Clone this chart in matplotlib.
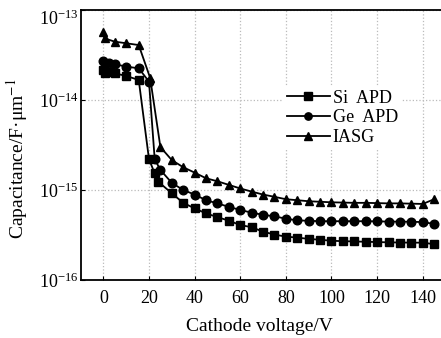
import numpy as np
import matplotlib
matplotlib.use('Agg')
import matplotlib.pyplot as plt
from matplotlib.ticker import FixedLocator, NullLocator
from matplotlib.transforms import ScaledTranslation

# 데이터
tail_v = [30, 35, 40, 45, 50, 55, 60, 65, 70, 75, 80, 85, 90, 95, 100,
          105, 110, 115, 120, 125, 130, 135, 140, 145]

si_v = [0, 0.5, 2.5, 5, 10, 15.5, 20, 22.5, 24] + tail_v
si_c = [2.15e-14, 2.0e-14, 2.07e-14, 1.98e-14, 1.85e-14, 1.67e-14, 2.2e-15, 1.53e-15, 1.24e-15,
        9.2e-16, 7.2e-16, 6.25e-16, 5.5e-16, 5.0e-16, 4.56e-16, 4.08e-16, 3.86e-16, 3.44e-16,
        3.2e-16, 3.03e-16, 2.96e-16, 2.86e-16, 2.8e-16, 2.73e-16, 2.7e-16, 2.68e-16, 2.66e-16,
        2.64e-16, 2.62e-16, 2.61e-16, 2.6e-16, 2.6e-16, 2.5e-16]

ge_v = [0, 0.5, 2.5, 5, 10, 15.5, 20, 22.5, 25] + tail_v
ge_c = [2.73e-14, 2.6e-14, 2.6e-14, 2.5e-14, 2.35e-14, 2.25e-14, 1.6e-14, 2.2e-15, 1.67e-15,
        1.2e-15, 1.0e-15, 8.9e-16, 7.7e-16, 7.1e-16, 6.5e-16, 6.0e-16, 5.6e-16, 5.3e-16,
        5.1e-16, 4.8e-16, 4.6e-16, 4.55e-16, 4.5e-16, 4.5e-16, 4.5e-16, 4.5e-16, 4.5e-16,
        4.48e-16, 4.46e-16, 4.45e-16, 4.44e-16, 4.4e-16, 4.2e-16]

iasg_v = [0, 0.5, 5, 10, 15.5, 20.5, 25] + tail_v
iasg_c = [5.74e-14, 4.84e-14, 4.45e-14, 4.27e-14, 4.08e-14, 1.76e-14, 3.0e-15,
          2.15e-15, 1.79e-15, 1.56e-15, 1.35e-15, 1.25e-15, 1.14e-15, 1.04e-15, 9.6e-16,
          8.9e-16, 8.4e-16, 7.9e-16, 7.7e-16, 7.5e-16, 7.4e-16, 7.3e-16, 7.25e-16, 7.2e-16,
          7.2e-16, 7.15e-16, 7.1e-16, 7.1e-16, 7.05e-16, 7.0e-16, 7.9e-16]

x_ticks = [0, 20, 40, 60, 80, 100, 120, 140]
y_ticks = [1e-16, 1e-15, 1e-14, 1e-13]

plt.rcParams['font.family'] = ['Liberation Serif', 'DejaVu Serif']
plt.rcParams['mathtext.fontset'] = 'stix'

fig = plt.figure(figsize=(4.41, 3.38), dpi=100)
ax = fig.add_axes([0.1837, 0.1716, 0.8163, 0.7988])

line_kw = dict(color='black', linewidth=1.3, markersize=6.2)
ax.plot(si_v, si_c, marker='s', label='Si  APD', **line_kw)
ax.plot(ge_v, ge_c, marker='o', label='Ge  APD', **line_kw)
ax.plot(iasg_v, iasg_c, marker='^', label='IASG', **line_kw)

ax.set_yscale('log')
ax.set_ylim(1e-16, 1e-13)
ax.set_xlim(-9.8, 148)
ax.set_xticks(x_ticks)
ax.yaxis.set_major_locator(FixedLocator(y_ticks))
ax.yaxis.set_minor_locator(NullLocator())

ax.tick_params(direction='in', length=3, width=0.8, labelsize=13)
ax.tick_params(axis='y', pad=2)
ax.tick_params(axis='x', pad=7)

ax.spines['right'].set_visible(False)
for s in ['left', 'bottom', 'top']:
    ax.spines[s].set_linewidth(1.3)

ax.grid(True, linestyle=':', color='#bbbbbb', linewidth=0.9)

ax.set_xlabel('Cathode voltage/V', fontsize=14)
ax.set_ylabel('Capacitance/F·μm$^{-1}$', fontsize=14)
ax.xaxis.set_label_coords(0.497, -0.141)
ax.yaxis.set_label_coords(-0.142, 0.448)

# 맨 위 눈금 라벨은 잘리지 않게 조금 아래로
top_tick = ax.yaxis.get_major_ticks()[-1]
top_tick.label1.set_transform(top_tick.label1.get_transform()
                              + ScaledTranslation(0, -5 / 72, fig.dpi_scale_trans))

leg = ax.legend(loc='upper left', bbox_to_anchor=(0.536, 0.752), fontsize=13,
                frameon=True, edgecolor='none', facecolor='white', framealpha=1,
                handlelength=2.4, handletextpad=0.15, labelspacing=0.15, borderpad=0.2,
                markerscale=0.85)
leg.get_frame().set_boxstyle('square', pad=0)

fig.savefig('out.png', dpi=100)
